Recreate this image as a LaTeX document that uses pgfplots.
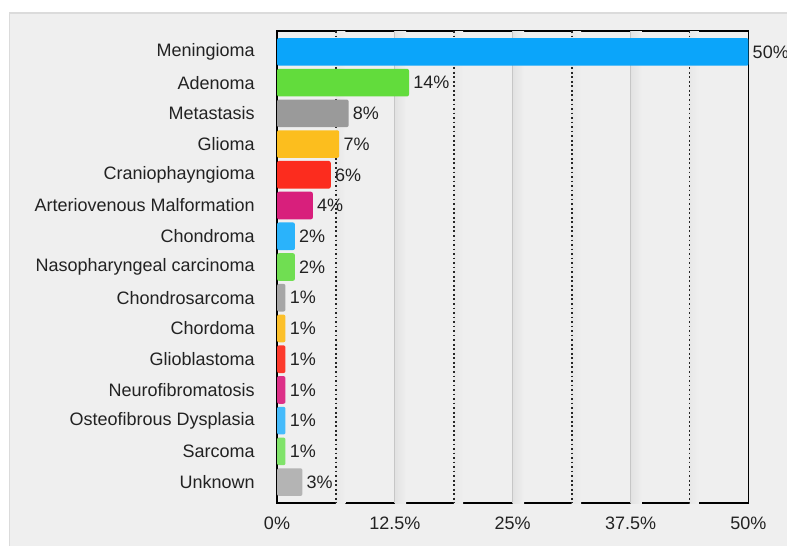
\documentclass[border=0pt]{standalone}
\usepackage{pgfplots}
\pgfplotsset{compat=1.18}
\usepackage{fontspec}
\setmainfont{Liberation Sans}

\definecolor{panel}{HTML}{EFEFEF}
\definecolor{band}{HTML}{E2E2E2}
\definecolor{bandlight}{HTML}{E8E8E8}
\definecolor{gridgray}{HTML}{C6C6C6}
\definecolor{txt}{HTML}{222222}
% bar colours, three passes through the same palette
\definecolor{cA}{HTML}{0BA5FA}
\definecolor{cB}{HTML}{62DC3C}
\definecolor{cC}{HTML}{9A9A9A}
\definecolor{cD}{HTML}{FCBE1E}
\definecolor{cE}{HTML}{FC2C1E}
\definecolor{cF}{HTML}{D81F7C}
\definecolor{dA}{HTML}{2AB3FB}
\definecolor{dB}{HTML}{70DE52}
\definecolor{dC}{HTML}{A6A6A6}
\definecolor{dD}{HTML}{FCC02A}
\definecolor{dE}{HTML}{FD3A2C}
\definecolor{dF}{HTML}{DD3088}
\definecolor{eA}{HTML}{45BBFB}
\definecolor{eB}{HTML}{80E36A}
\definecolor{eC}{HTML}{B4B4B4}

\newcommand\lbl{\fontsize{13.5}{16}\selectfont}
% one bar: colour, share (%), row
\newcommand\onebar[3]{\addplot[fill=#1, draw=none, rounded corners=1.5pt] coordinates {(#2,#3)};}
% soft band to the right of a grid line: colour, from, to
\newcommand\band[3]{\fill[left color=#1, right color=panel, draw=none]
    (axis cs:#2,-0.68) rectangle (axis cs:#3,14.68);}
% solid and dotted grid lines
\newcommand\solidgrid[1]{\draw[gridgray, line width=0.8pt]
    (axis cs:#1,-0.68) -- (axis cs:#1,14.68);}
\newcommand\dotgrid[1]{\draw[black!85, line width=1.3pt, dash pattern=on 1.3pt off 2.1pt]
    (axis cs:#1,-0.68) -- (axis cs:#1,14.68);}

\begin{document}
\begin{tikzpicture}[x=0.75pt,y=0.75pt]
\useasboundingbox (0,0) rectangle (787,546);
\fill[white] (0,0) rectangle (787,546);
\fill[black!14] (8.5,0) rectangle (787,533.5);
\fill[panel] (10,0) rectangle (787,532);
\begin{axis}[
  at={(207.75pt,32.25pt)}, anchor=south west,
  scale only axis, width=353.6pt, height=354pt,
  clip=false,
  xbar, bar shift=0pt, bar width=0.9,
  xmin=0, xmax=50, ymin=-0.68, ymax=14.68, y dir=reverse,
  axis background/.style={fill=panel},
  axis line style={black, line width=1.1pt},
  /pgf/number format/assume math mode=true,
  xtick={0,12.5,25,37.5,50},
  xticklabels={0\%,12.5\%,25\%,37.5\%,50\%},
  xtick pos=lower, tick align=inside,
  major tick length=3.6pt,
  xtick style={black, line width=1pt},
  ytick={0,...,14},
  yticklabels={Meningioma,Adenoma,Metastasis,Glioma,Craniophayngioma,
    Arteriovenous Malformation,Chondroma,Nasopharyngeal carcinoma,
    Chondrosarcoma,Chordoma,Glioblastoma,Neurofibromatosis,
    Osteofibrous Dysplasia,Sarcoma,Unknown},
  ytick style={draw=none},
  tick label style={font=\lbl, text=txt, inner sep=0pt},
  yticklabel style={anchor=east, xshift=-16.5pt},
  xticklabel style={anchor=north, yshift=-10.5pt},
  nodes near coords={\pgfmathprintnumber[fixed,precision=0]{\pgfplotspointmeta}\%},
  every node near coord/.append style={anchor=west, inner sep=0pt,
    xshift=3pt, font=\lbl, text=txt},
]
% soft shading beside the grid lines
\band{band}{12.5}{13.7}
\band{band}{25}{26.2}
\band{band}{37.5}{38.7}
\band{bandlight}{6.25}{7.25}
\band{bandlight}{18.75}{19.75}
\band{bandlight}{31.25}{32.25}
\band{bandlight}{43.75}{44.75}
\solidgrid{12.5}
\solidgrid{25}
\solidgrid{37.5}
\dotgrid{6.25}
\dotgrid{18.75}
\dotgrid{31.25}
\dotgrid{43.75}
\onebar{cA}{50}{0}
\onebar{cB}{14.0}{1}
\onebar{cC}{7.6}{2}
\onebar{cD}{6.6}{3}
\onebar{cE}{5.7}{4}
\onebar{cF}{3.8}{5}
\onebar{dA}{1.9}{6}
\onebar{dB}{1.9}{7}
\onebar{dC}{0.9}{8}
\onebar{dD}{0.9}{9}
\onebar{dE}{0.9}{10}
\onebar{dF}{0.9}{11}
\onebar{eA}{0.9}{12}
\onebar{eB}{0.9}{13}
\onebar{eC}{2.7}{14}
\end{axis}
\end{tikzpicture}
\end{document}
